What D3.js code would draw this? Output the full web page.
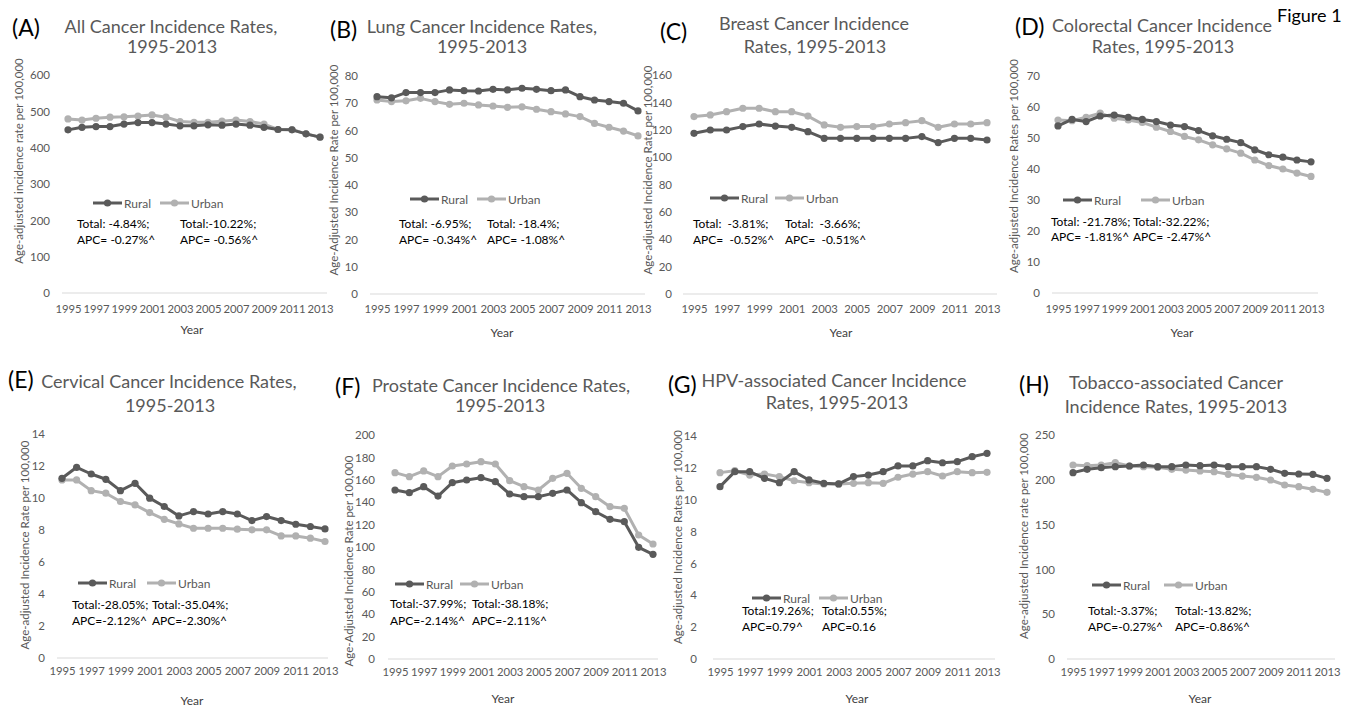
<!DOCTYPE html>
<html>
<head>
<meta charset="utf-8">
<script src="https://cdn.jsdelivr.net/npm/d3@7"></script>
<style>
  body { margin: 0; background: #fff; }
  svg text { font-family: Lato, "Open Sans", sans-serif; }
</style>
</head>
<body>
<div id="chart"></div>
<script>
// Categories
var years = [1995, 1996, 1997, 1998, 1999, 2000, 2001, 2002, 2003, 2004, 2005, 2006, 2007, 2008, 2009, 2010, 2011, 2012, 2013];
var yearTicks = [1995, 1997, 1999, 2001, 2003, 2005, 2007, 2009, 2011, 2013];

// (A) All cancer
var allRural = [449, 456, 458, 458, 465, 469, 469, 465, 460, 460, 463, 462, 465, 462, 456, 450, 449, 438, 429];
var allUrban = [479, 476, 481, 484, 485, 487, 490, 484, 472, 470, 470, 473, 476, 472, 465, 450, 450, 438, 429];
var allTicks = [0, 100, 200, 300, 400, 500, 600];

// (B) Lung
var lungRural = [72.4, 72.0, 73.9, 73.9, 73.9, 74.9, 74.6, 74.5, 75.1, 74.9, 75.5, 75.1, 74.6, 74.9, 72.4, 71.2, 70.6, 70.0, 67.2];
var lungUrban = [71.2, 70.6, 70.9, 71.8, 70.6, 69.6, 70.0, 69.4, 69.0, 68.5, 68.7, 67.8, 66.9, 66.1, 65.1, 62.6, 61.2, 59.8, 58.0];
var lungTicks = [0, 10, 20, 30, 40, 50, 60, 70, 80];

// (C) Breast
var breastRural = [117.4, 119.8, 119.8, 122.3, 124.2, 122.7, 121.8, 118.6, 113.7, 113.7, 113.7, 113.7, 113.7, 113.7, 115.0, 110.6, 113.7, 113.7, 112.5];
var breastUrban = [129.6, 130.8, 133.2, 135.7, 135.7, 133.2, 133.2, 130.0, 123.5, 121.8, 122.3, 122.3, 124.2, 125.2, 126.6, 121.8, 124.2, 124.2, 125.2];
var breastTicks = [0, 20, 40, 60, 80, 100, 120, 140, 160];

// (D) Colorectal
var crcRural = [53.9, 56.0, 55.3, 57.1, 57.4, 56.7, 56.0, 55.3, 54.2, 53.7, 52.4, 50.7, 49.6, 48.5, 46.2, 44.6, 43.8, 42.9, 42.3];
var crcUrban = [55.8, 55.6, 56.7, 58.0, 56.4, 55.8, 55.0, 53.5, 52.1, 50.5, 49.4, 47.8, 46.5, 45.1, 42.9, 41.1, 40.0, 38.7, 37.6];
var crcTicks = [0, 10, 20, 30, 40, 50, 60, 70];

// (E) Cervical
var cervRural = [11.23, 11.92, 11.5, 11.17, 10.46, 10.92, 9.99, 9.47, 8.88, 9.15, 9.0, 9.15, 9.0, 8.59, 8.84, 8.59, 8.36, 8.22, 8.07];
var cervUrban = [11.13, 11.13, 10.46, 10.3, 9.78, 9.57, 9.09, 8.67, 8.38, 8.11, 8.11, 8.11, 8.05, 8.01, 8.01, 7.63, 7.63, 7.49, 7.28];
var cervTicks = [0, 2, 4, 6, 8, 10, 12, 14];

// (F) Prostate
var prosRural = [150.9, 148.5, 153.9, 145.5, 157.4, 159.8, 161.9, 158.3, 147.3, 144.9, 144.9, 147.9, 150.9, 139.6, 131.5, 124.7, 122.6, 99.7, 93.5];
var prosUrban = [166.4, 162.8, 167.9, 162.8, 172.3, 174.1, 176.2, 174.1, 159.2, 153.9, 150.9, 161.3, 165.8, 152.4, 144.9, 136.0, 134.5, 110.7, 102.7];
var prosTicks = [0, 20, 40, 60, 80, 100, 120, 140, 160, 180, 200];

// (G) HPV-associated
var hpvRural = [10.82, 11.76, 11.76, 11.34, 11.07, 11.76, 11.24, 11.03, 10.99, 11.45, 11.55, 11.76, 12.12, 12.12, 12.45, 12.32, 12.39, 12.7, 12.91];
var hpvUrban = [11.70, 11.82, 11.55, 11.61, 11.45, 11.19, 11.07, 10.99, 10.99, 11.03, 11.07, 11.03, 11.41, 11.61, 11.76, 11.49, 11.76, 11.70, 11.72];
var hpvTicks = [0, 2, 4, 6, 8, 10, 12, 14];

// (H) Tobacco-associated
var tobRural = [208, 211.7, 213.5, 214.7, 215.4, 216.5, 214.7, 214.7, 216.5, 215.8, 216.5, 214.7, 214.7, 214.7, 211.7, 207.2, 206.5, 206.1, 201.6];
var tobUrban = [216.5, 215.8, 216.5, 219.1, 215.4, 214.7, 213.9, 211.7, 210.9, 209.8, 209.1, 206.1, 204.2, 202.8, 199.8, 194.2, 192.3, 189.4, 186];
var tobTicks = [0, 50, 100, 150, 200, 250];

// Text
var letters = ["(A)", "(B)", "(C)", "(D)", "(E)", "(F)", "(G)", "(H)"];
var titles = [
  ["All Cancer Incidence Rates,", "1995-2013"],
  ["Lung Cancer Incidence Rates,", "1995-2013"],
  ["Breast Cancer Incidence", "Rates, 1995-2013"],
  ["Colorectal Cancer Incidence", "Rates, 1995-2013"],
  ["Cervical Cancer Incidence Rates,", "1995-2013"],
  ["Prostate Cancer Incidence Rates,", "1995-2013"],
  ["HPV-associated Cancer Incidence", "Rates, 1995-2013"],
  ["Tobacco-associated Cancer", "Incidence Rates, 1995-2013"]
];
var yLabels = [
  "Age-adjusted incidence rate per 100,000",
  "Age-Adjusted Incidence Rate per 100,000",
  "Age-adjusted Incidence Rate per 100,000",
  "Age-adjusted Incidence Rates per 100,000",
  "Age-adjusted Incidence Rate per 100,000",
  "Age-Adjusted Incidence Rate per 100,000",
  "Age-adjusted Incidence Rates per 100,000",
  "Age-adjusted Incidence rate per 100,000"
];
var ruralNotes = [
  ["Total: -4.84%;", "APC= -0.27%^"],
  ["Total: -6.95%;", "APC= -0.34%^"],
  ["Total:  -3.81%;", "APC=  -0.52%^"],
  ["Total: -21.78%;", "APC= -1.81%^"],
  ["Total:-28.05%;", "APC=-2.12%^"],
  ["Total:-37.99%;", "APC=-2.14%^"],
  ["Total:19.26%;", "APC=0.79^"],
  ["Total:-3.37%;", "APC=-0.27%^"]
];
var urbanNotes = [
  ["Total:-10.22%;", "APC= -0.56%^"],
  ["Total: -18.4%;", "APC= -1.08%^"],
  ["Total:  -3.66%;", "APC=  -0.51%^"],
  ["Total:-32.22%;", "APC= -2.47%^"],
  ["Total:-35.04%;", "APC=-2.30%^"],
  ["Total:-38.18%;", "APC=-2.11%^"],
  ["Total:0.55%;", "APC=0.16"],
  ["Total:-13.82%;", "APC=-0.86%^"]
];
var seriesNames = ["Rural", "Urban"];

var ruralSeries = [allRural, lungRural, breastRural, crcRural, cervRural, prosRural, hpvRural, tobRural];
var urbanSeries = [allUrban, lungUrban, breastUrban, crcUrban, cervUrban, prosUrban, hpvUrban, tobUrban];
var tickSets = [allTicks, lungTicks, breastTicks, crcTicks, cervTicks, prosTicks, hpvTicks, tobTicks];

// Layout of each panel (page pixels)
var layout = [
  {letter: [12, 36],    title: [171, 172, 33, 53],    ylab: [18, 161],   x: [68, 320],    y: [293, 75],  tickR: 50,   base: [62, 327],    xTickY: 316, year: [192, 334],  legY: 203, legX: [93, 160],    ann: [77, 180],    annY: [228, 244]},
  {letter: [330, 38],   title: [482, 482, 33, 53],    ylab: [333, 170],  x: [377, 638],   y: [294, 76],  tickR: 358,  base: [370, 645],   xTickY: 316, year: [502, 337],  legY: 199, legX: [410, 477],   ann: [399, 487],   annY: [228, 244]},
  {letter: [660, 40],   title: [814, 815, 30, 53],    ylab: [647, 170],  x: [694, 987],   y: [294, 75],  tickR: 672,  base: [683, 997],   xTickY: 316, year: [841, 337],  legY: 198, legX: [710, 775],   ann: [693, 785],   annY: [228, 244]},
  {letter: [1015, 35],  title: [1162, 1163, 32, 53],  ylab: [1013, 166], x: [1058, 1311], y: [293, 76],  tickR: 1040, base: [1052, 1318], xTickY: 316, year: [1182, 337], legY: 200, legX: [1063, 1141], ann: [1051, 1133], annY: [226, 241]},
  {letter: [8, 388],    title: [169, 170, 388, 412],  ylab: [24, 545],   x: [62, 325],    y: [658, 434], tickR: 45,   base: [57, 328],    xTickY: 678, year: [192, 705],  legY: 583, legX: [78, 147],    ann: [72, 152],    annY: [609, 625]},
  {letter: [335, 395],  title: [501, 500, 392, 412],  ylab: [348, 561],  x: [395, 653],   y: [659, 435], tickR: 375,  base: [388, 658],   xTickY: 679, year: [503, 703],  legY: 584, legX: [395, 460],   ann: [390, 472],   annY: [608, 625]},
  {letter: [668, 393],  title: [834, 837, 387, 409],  ylab: [677, 537],  x: [720, 987],   y: [659, 436], tickR: 697,  base: [713, 995],   xTickY: 679, year: [857, 703],  legY: 598, legX: [752, 819],   ann: [742, 822],   annY: [615, 631]},
  {letter: [1019, 393], title: [1176, 1176, 389, 413], ylab: [1023, 536], x: [1073, 1327], y: [659, 435], tickR: 1055, base: [1067, 1335], xTickY: 679, year: [1200, 703], legY: 585, legX: [1092, 1164], ann: [1088, 1175], annY: [615, 631]}
];

var width = 1357, height = 707;
var colors = {Rural: "#5a5a5a", Urban: "#b1b1b1"};
var textGrey = "#595959";

var svg = d3.select("#chart")
            .append("svg")
            .attr("width", width)
            .attr("height", height)
            .style("display", "block");

svg.append("text")
   .attr("x", 1277).attr("y", 22)
   .attr("font-size", 18)
   .attr("fill", "#000")
   .text("Figure 1");

function drawPanel(i) {
    var L = layout[i];
    var g = svg.append("g");

    var x = d3.scalePoint().domain(years).range(L.x);
    var ticks = tickSets[i];
    var y = d3.scaleLinear().domain([0, d3.max(ticks)]).range(L.y);

    // letter and title
    g.append("text")
     .attr("x", L.letter[0]).attr("y", L.letter[1])
     .attr("font-size", 23).attr("fill", "#000")
     .text(letters[i]);

    g.append("text")
     .attr("x", L.title[0]).attr("y", L.title[2])
     .attr("text-anchor", "middle").attr("font-size", 18).attr("fill", textGrey)
     .text(titles[i][0]);
    g.append("text")
     .attr("x", L.title[1]).attr("y", L.title[3])
     .attr("text-anchor", "middle").attr("font-size", 18).attr("fill", textGrey)
     .text(titles[i][1]);

    // baseline
    g.append("line")
     .attr("x1", L.base[0]).attr("x2", L.base[1])
     .attr("y1", y(0)).attr("y2", y(0))
     .attr("stroke", "#d9d9d9").attr("stroke-width", 1);

    // y axis
    var yAxis = g.append("g")
                 .attr("transform", "translate(" + L.tickR + ",0)")
                 .call(d3.axisLeft(y).tickValues(ticks).tickSize(0).tickPadding(0).tickFormat(d3.format("d")));
    yAxis.select(".domain").remove();
    yAxis.selectAll("text")
         .attr("font-size", 11.5).attr("fill", textGrey)
         .attr("font-family", "Lato, 'Open Sans', sans-serif");

    // x axis
    var xAxis = g.append("g")
                 .attr("transform", "translate(0," + (L.xTickY - 11) + ")")
                 .call(d3.axisBottom(x).tickValues(yearTicks).tickSize(0).tickPadding(0));
    xAxis.select(".domain").remove();
    xAxis.selectAll("text")
         .attr("font-size", 11.3).attr("fill", textGrey)
         .attr("font-family", "Lato, 'Open Sans', sans-serif");

    g.append("text")
     .attr("x", L.year[0]).attr("y", L.year[1])
     .attr("text-anchor", "middle").attr("font-size", 12).attr("fill", "#404040")
     .text("Year");

    g.append("text")
     .attr("transform", "translate(" + L.ylab[0] + "," + L.ylab[1] + ") rotate(-90)")
     .attr("text-anchor", "middle").attr("dominant-baseline", "central")
     .attr("font-size", 11.5).attr("fill", textGrey)
     .text(yLabels[i]);

    // lines and markers
    var line = d3.line().x(function(d, j) { return x(years[j]); }).y(function(d) { return y(d); });
    [urbanSeries[i], ruralSeries[i]].forEach(function(vals, k) {
        var name = k === 0 ? "Urban" : "Rural";
        g.append("path")
         .datum(vals)
         .attr("d", line)
         .attr("fill", "none")
         .attr("stroke", colors[name])
         .attr("stroke-width", 3)
         .attr("stroke-linejoin", "round");
        g.selectAll(null)
         .data(vals)
         .enter().append("circle")
         .attr("cx", function(d, j) { return x(years[j]); })
         .attr("cy", function(d) { return y(d); })
         .attr("r", 3.6)
         .attr("fill", colors[name]);
    });

    // legend
    seriesNames.forEach(function(name, k) {
        var lx = L.legX[k];
        g.append("line")
         .attr("x1", lx).attr("x2", lx + 29)
         .attr("y1", L.legY).attr("y2", L.legY)
         .attr("stroke", colors[name]).attr("stroke-width", 3);
        g.append("circle")
         .attr("cx", lx + 14.5).attr("cy", L.legY).attr("r", 3.6)
         .attr("fill", colors[name]);
        g.append("text")
         .attr("x", lx + 31).attr("y", L.legY + 4.5)
         .attr("font-size", 12).attr("fill", textGrey)
         .text(name);
    });

    // annotations
    [ruralNotes[i], urbanNotes[i]].forEach(function(note, k) {
        note.forEach(function(txt, r) {
            g.append("text")
             .attr("x", L.ann[k]).attr("y", L.annY[r])
             .attr("font-size", 12).attr("fill", "#000")
             .style("white-space", "pre")
             .text(txt);
        });
    });
}

for (var i = 0; i < layout.length; ++i) {
    drawPanel(i);
}
</script>
</body>
</html>
